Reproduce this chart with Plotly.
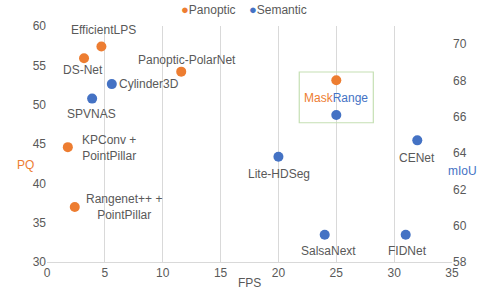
import plotly.graph_objects as go

# Panoptic (PQ, left axis)
pan_names = ["EfficientLPS", "DS-Net", "Panoptic-PolarNet", "KPConv +<br>PointPillar",
             "Rangenet++ +<br>PointPillar", "MaskRange"]
pan_fps = [4.7, 3.2, 11.6, 1.8, 2.4, 25]
pan_pq = [57.4, 55.9, 54.2, 44.6, 37.0, 53.1]

# Semantic (mIoU, right axis)
sem_names = ["Cylinder3D", "SPVNAS", "CENet", "Lite-HDSeg", "SalsaNext", "FIDNet", "MaskRange"]
sem_fps = [5.6, 3.9, 32, 20, 24, 31, 25]
sem_miou = [67.8, 67.0, 64.7, 63.8, 59.5, 59.5, 66.1]

series_names = ["Panoptic", "Semantic"]

x_ticks = [0, 5, 10, 15, 20, 25, 30, 35]
pq_ticks = [30, 35, 40, 45, 50, 55, 60]
miou_ticks = [58, 60, 62, 64, 66, 68, 70]

ORANGE = "#ED7D31"
BLUE = "#4472C4"
TXT = "#595959"
FONT = "Liberation Sans"

# label offsets (px): (xshift, yshift, xanchor)
pan_lbl = {
    "EfficientLPS": (2, 16, "center"),
    "DS-Net": (-1, -12, "center"),
    "Panoptic-PolarNet": (6, 12, "center"),
    "KPConv +<br>PointPillar": (12, -1, "left"),
    "Rangenet++ +<br>PointPillar": (9, 0, "left"),
}
sem_lbl = {
    "Cylinder3D": (5, 0, "left"),
    "SPVNAS": (-1, -15, "center"),
    "CENet": (0, -18, "center"),
    "Lite-HDSeg": (1, -17, "center"),
    "SalsaNext": (4, -16, "center"),
    "FIDNet": (2, -16, "center"),
}

fig = go.Figure()
fig.add_trace(go.Scatter(x=pan_fps, y=pan_pq, mode="markers", name=series_names[0],
                         marker=dict(color=ORANGE, size=10), yaxis="y", showlegend=False))
fig.add_trace(go.Scatter(x=sem_fps, y=sem_miou, mode="markers", name=series_names[1],
                         marker=dict(color=BLUE, size=10), yaxis="y2", showlegend=False))

ann = []
for n, x, y in zip(pan_names, pan_fps, pan_pq):
    if n in pan_lbl:
        dx, dy, xa = pan_lbl[n]
        ann.append(dict(x=x, y=y, xref="x", yref="y", text=n, showarrow=False,
                        xshift=dx, yshift=dy, xanchor=xa, align="center",
                        font=dict(size=12, color=TXT, family=FONT)))
for n, x, y in zip(sem_names, sem_fps, sem_miou):
    if n in sem_lbl:
        dx, dy, xa = sem_lbl[n]
        ann.append(dict(x=x, y=y, xref="x", yref="y2", text=n, showarrow=False,
                        xshift=dx, yshift=dy, xanchor=xa, align="center",
                        font=dict(size=12, color=TXT, family=FONT)))

mr_x = pan_fps[pan_names.index("MaskRange")]
mr_y = pan_pq[pan_names.index("MaskRange")]
ann.append(dict(x=mr_x, y=mr_y, xref="x", yref="y", showarrow=False, yshift=-18,
                text=f"<span style='color:{ORANGE}'>Mask</span><span style='color:{BLUE}'>Range</span>",
                font=dict(size=12, family=FONT)))

# axis titles (horizontal, as in the reference)
ann.append(dict(x=-0.079, y=0.41, xref="paper", yref="paper", text="PQ", showarrow=False,
                font=dict(size=12, color=ORANGE, family=FONT)))
ann.append(dict(x=1.066, y=0.385, xref="paper", yref="paper", text="mIoU", showarrow=False,
                font=dict(size=12, color=BLUE, family=FONT)))
ann.append(dict(x=0.5, y=-0.127, xref="paper", yref="paper", text="FPS", showarrow=False,
                font=dict(size=12, color=TXT, family=FONT)))

# legend (compact, Excel style)
legend_text = "&nbsp;&nbsp;&nbsp;&nbsp;".join(
    f"<span style='color:{c};font-size:13px'>●</span>{n}"
    for c, n in zip([ORANGE, BLUE], series_names))
ann.append(dict(x=0.487, y=1.07, xref="paper", yref="paper", text=legend_text,
                showarrow=False, xanchor="center", yanchor="middle",
                font=dict(size=12, color=TXT, family=FONT)))

fig.add_shape(type="rect", xref="x", yref="y", x0=mr_x - 3.2, x1=mr_x + 3.2,
              y0=mr_y - 5.4, y1=mr_y + 1.05, line=dict(color="#C5E0B4", width=1.2),
              fillcolor="rgba(0,0,0,0)")

fig.update_layout(
    width=498, height=300,
    margin=dict(l=47, r=46, t=26, b=38, autoexpand=False),
    paper_bgcolor="white", plot_bgcolor="white",
    font=dict(family=FONT, size=12, color=TXT),
    showlegend=False,
    xaxis=dict(range=[0, 35], tickvals=x_ticks, showgrid=True, gridcolor="#D9D9D9",
               gridwidth=1, zeroline=False, showline=True, linecolor="#D9D9D9",
               ticks=""),
    yaxis=dict(range=[30, 60], tickvals=pq_ticks, showgrid=False, zeroline=False,
               showline=False, ticks=""),
    yaxis2=dict(range=[58, 71], tickvals=miou_ticks, overlaying="y", side="right",
                showgrid=False, zeroline=False, showline=False, ticks=""),
    annotations=ann,
)

fig.write_html("out.html", config={"displayModeBar": False},
               post_script="document.body.style.margin='0';")
